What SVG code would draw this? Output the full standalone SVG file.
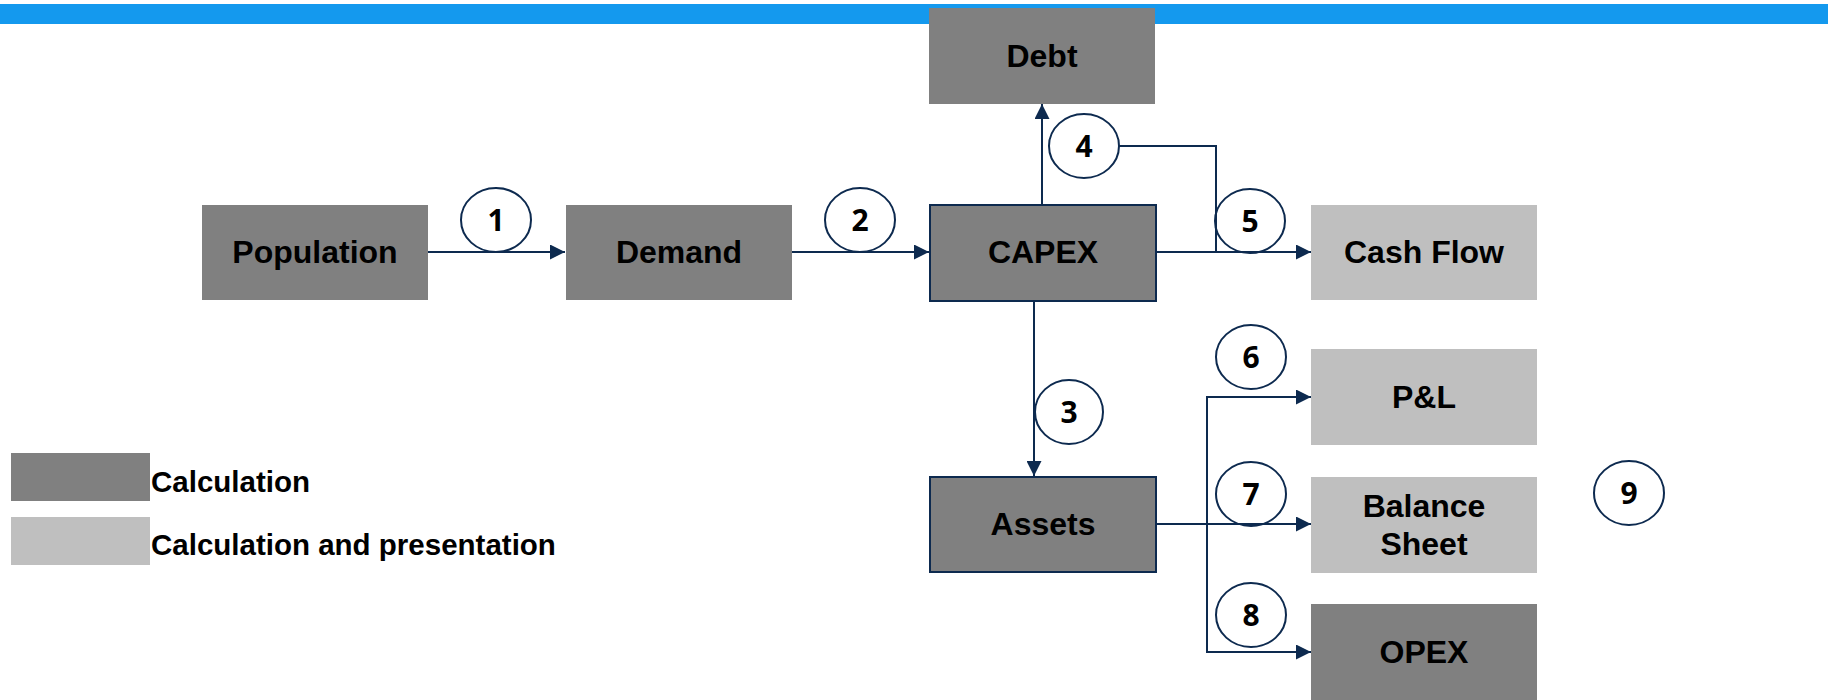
<svg xmlns="http://www.w3.org/2000/svg" width="1828" height="700" viewBox="0 0 1828 700">
  <style>
    .calc { fill: #808080; }
    .pres { fill: #bfbfbf; }
    .framed { stroke: #0d2a4f; stroke-width: 2; }
    .label { font-family: "Liberation Sans", Arial, sans-serif; font-weight: bold; font-size: 32px; fill: #000; text-anchor: middle; }
    .legend { font-family: "Liberation Sans", Arial, sans-serif; font-weight: bold; font-size: 29.5px; fill: #000; }
    .step ellipse { fill: #fff; stroke: #0d2a4f; stroke-width: 2; }
    .step text { font-family: "Noto Sans", "DejaVu Sans", sans-serif; font-weight: bold; font-size: 30px; fill: #000; text-anchor: middle; }
    .conn { fill: none; stroke: #0d2a4f; stroke-width: 2; }
  </style>
  <defs>
    <marker id="arrow" viewBox="0 0 15 15" refX="15" refY="7.5" markerWidth="15" markerHeight="15" markerUnits="userSpaceOnUse" orient="auto">
      <path d="M0,0 L15,7.5 L0,15 Z" fill="#0d2a4f"/>
    </marker>
  </defs>

  <!-- header band -->
  <rect x="0" y="4" width="1828" height="20" fill="#1499ee"/>

  <!-- numbered steps -->
  <g id="steps">
    <g class="step" id="step-1"><ellipse cx="496" cy="220" rx="35" ry="32"/><text x="496" y="231">1</text></g>
    <g class="step" id="step-2"><ellipse cx="860" cy="220" rx="35" ry="32"/><text x="860" y="231">2</text></g>
    <g class="step" id="step-3"><ellipse cx="1069" cy="412" rx="34" ry="32"/><text x="1069" y="423">3</text></g>
    <g class="step" id="step-4"><ellipse cx="1084" cy="146" rx="35" ry="32"/><text x="1084" y="157">4</text></g>
    <g class="step" id="step-5"><ellipse cx="1250" cy="221" rx="35" ry="32"/><text x="1250" y="232">5</text></g>
    <g class="step" id="step-6"><ellipse cx="1251" cy="357" rx="35" ry="32"/><text x="1251" y="368">6</text></g>
    <g class="step" id="step-7"><ellipse cx="1251" cy="494" rx="35" ry="32"/><text x="1251" y="505">7</text></g>
    <g class="step" id="step-8"><ellipse cx="1251" cy="615" rx="35" ry="32"/><text x="1251" y="626">8</text></g>
    <g class="step" id="step-9"><ellipse cx="1629" cy="493" rx="35" ry="32"/><text x="1629" y="504">9</text></g>
  </g>

  <!-- connectors -->
  <g id="connectors">
    <path class="conn" d="M428,252 H565" marker-end="url(#arrow)"/>
    <path class="conn" d="M792,252 H929" marker-end="url(#arrow)"/>
    <path class="conn" d="M1042,204 V104" marker-end="url(#arrow)"/>
    <path class="conn" d="M1119,146 H1216 V252"/>
    <path class="conn" d="M1156,252 H1311" marker-end="url(#arrow)"/>
    <path class="conn" d="M1034,301 V476" marker-end="url(#arrow)"/>
    <path class="conn" d="M1156,524 H1311" marker-end="url(#arrow)"/>
    <path class="conn" d="M1311,397 H1207 V652 H1311"/>
    <path class="conn" d="M1207,397 H1311" marker-end="url(#arrow)"/>
    <path class="conn" d="M1207,652 H1311" marker-end="url(#arrow)"/>
  </g>

  <!-- nodes -->
  <g id="debt"><rect class="calc" x="929" y="8" width="226" height="96"/><text class="label" x="1042" y="67">Debt</text></g>
  <g id="population"><rect class="calc" x="202" y="205" width="226" height="95"/><text class="label" x="315" y="263">Population</text></g>
  <g id="demand"><rect class="calc" x="566" y="205" width="226" height="95"/><text class="label" x="679" y="263">Demand</text></g>
  <g id="capex"><rect class="calc framed" x="930" y="205" width="226" height="96"/><text class="label" x="1043" y="263">CAPEX</text></g>
  <g id="cash-flow"><rect class="pres" x="1311" y="205" width="226" height="95"/><text class="label" x="1424" y="263">Cash Flow</text></g>
  <g id="pl"><rect class="pres" x="1311" y="349" width="226" height="96"/><text class="label" x="1424" y="408">P&amp;L</text></g>
  <g id="assets"><rect class="calc framed" x="930" y="477" width="226" height="95"/><text class="label" x="1043" y="535">Assets</text></g>
  <g id="balance-sheet"><rect class="pres" x="1311" y="477" width="226" height="96"/><text class="label" x="1424" y="517">Balance</text><text class="label" x="1424" y="555">Sheet</text></g>
  <g id="opex"><rect class="calc" x="1311" y="604" width="226" height="96"/><text class="label" x="1424" y="663">OPEX</text></g>

  <!-- key -->
  <g id="legend">
    <rect class="calc" x="11" y="453" width="139" height="48"/>
    <text class="legend" x="151" y="492">Calculation</text>
    <rect class="pres" x="11" y="517" width="139" height="48"/>
    <text class="legend" x="151" y="555">Calculation and presentation</text>
  </g>
</svg>
